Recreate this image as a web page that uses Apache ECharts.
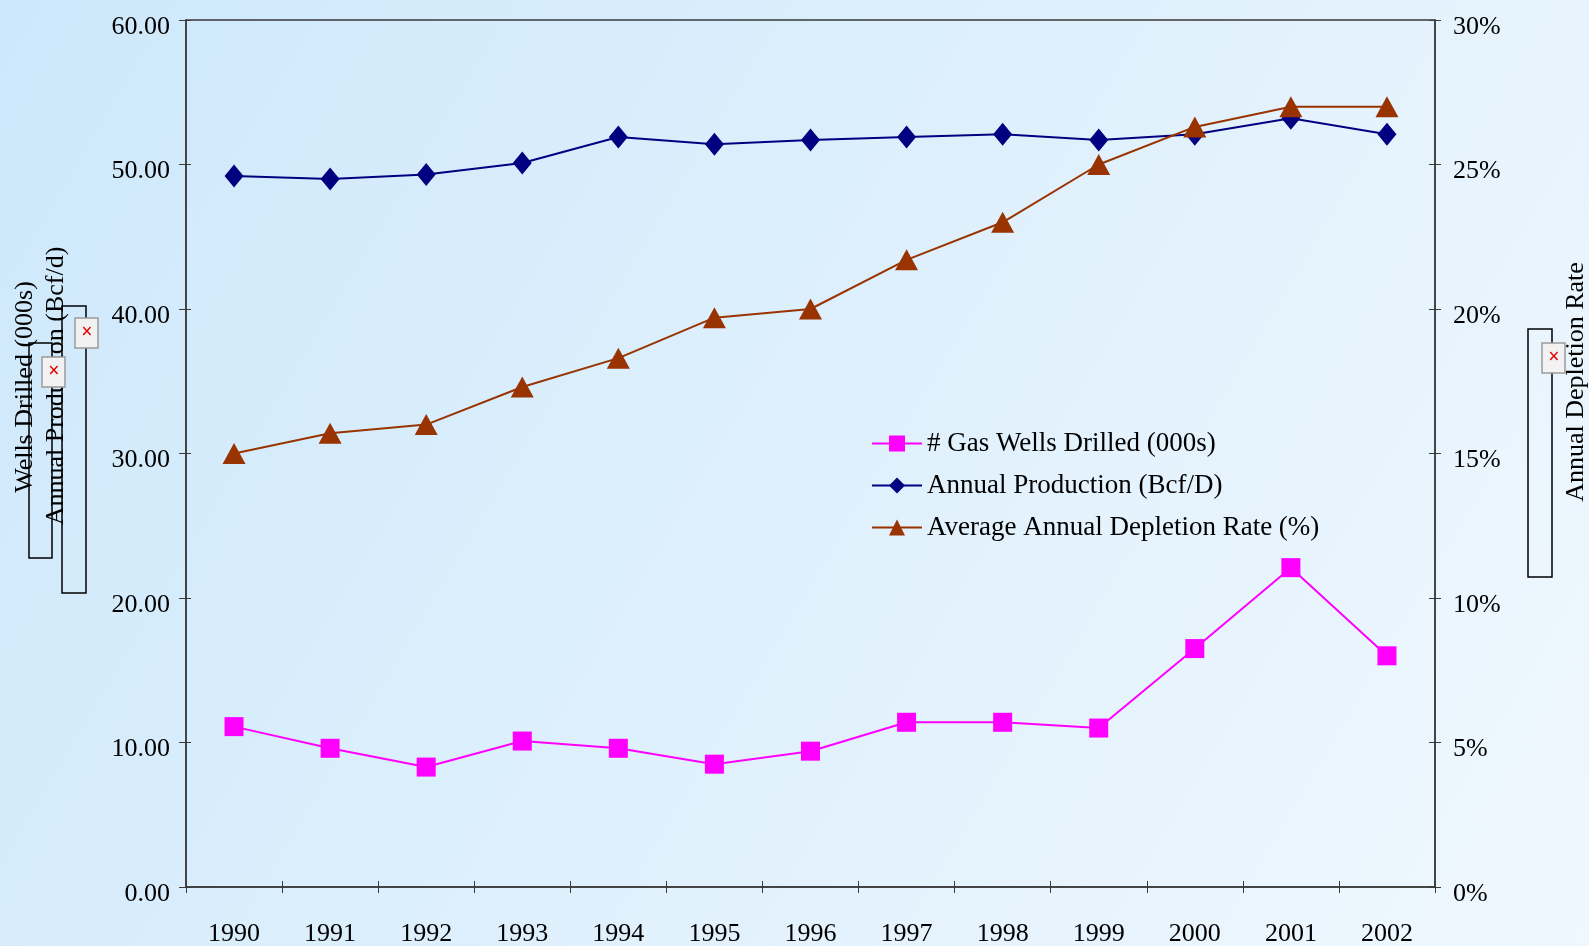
<!DOCTYPE html>
<html>
<head>
<meta charset="utf-8">
<title>Gas Wells / Production / Depletion</title>
<script src="https://cdn.jsdelivr.net/npm/echarts@6/dist/echarts.min.js"></script>
<style>
html,body{margin:0;padding:0;}
#main{width:1589px;height:946px;}
</style>
</head>
<body>
<div id="main"></div>
<script>
// 数据
var years = ['1990','1991','1992','1993','1994','1995','1996','1997','1998','1999','2000','2001','2002'];
var wellsDrilled = [11.1, 9.6, 8.3, 10.1, 9.6, 8.5, 9.4, 11.4, 11.4, 11.0, 16.5, 22.1, 16.0];
var annualProduction = [49.2, 49.0, 49.3, 50.1, 51.9, 51.4, 51.7, 51.9, 52.1, 51.7, 52.1, 53.2, 52.1];
var depletionRate = [15.0, 15.7, 16.0, 17.3, 18.3, 19.7, 20.0, 21.7, 23.0, 25.0, 26.3, 27.0, 27.0];
var leftTicks = [0, 60, 10];   // min, max, interval
var rightTicks = [0, 30, 5];

var FONT = 'Liberation Serif';

var chart_page = {
	init : function(){
		var myChart = echarts.init(document.getElementById('main'));
		myChart.setOption(chart_page.options());
		window.addEventListener('resize', function(){ myChart.resize(); });
	},

	// 坐标轴 - 公共样式
	axis_line : { show:true, onZero:false, lineStyle:{ color:'#3a3a3a', width:1.5 } },
	label_style : { color:'#000', fontFamily:FONT, fontSize:26 },

	// 破图占位框
	broken_box : function(x, y, w, h){
		return { type:'rect', shape:{ x:x, y:y, width:w, height:h },
			style:{ fill:'none', stroke:'#000', lineWidth:1.5 } };
	},
	broken_icon : function(x, y){
		return { type:'group', children:[
			{ type:'rect', shape:{ x:x, y:y, width:23, height:30 },
			  style:{ fill:'#f2f2f2', stroke:'#9a9a9a', lineWidth:1.5 } },
			{ type:'text', x:x + 12, y:y + 15,
			  style:{ text:'×', fill:'#e00000', font:'bold 20px ' + FONT, textAlign:'center', textVerticalAlign:'middle' } }
		]};
	},
	v_title : function(text, x, y){
		return { type:'text', x:x, y:y, rotation:Math.PI / 2,
			style:{ text:text, fill:'#000', font:'26px ' + FONT, textAlign:'center', textVerticalAlign:'middle' } };
	},

	options : function(){
		var lbl = chart_page.label_style;
		var option = {
			backgroundColor : new echarts.graphic.LinearGradient(0, 0, 1, 1, [
				{ offset:0, color:'#cde8fb' },
				{ offset:1, color:'#f0f8fe' }
			]),
			animation : false,
			grid : {
				left:186, right:154, top:20, bottom:59,
				outerBoundsMode:'none',
				show:true, borderColor:'#3a3a3a', borderWidth:1.5, backgroundColor:'transparent'
			},
			legend : {
				orient:'vertical',
				left:866, top:425,
				itemWidth:50, itemHeight:20, itemGap:15,
				textStyle:{ color:'#000', fontFamily:FONT, fontSize:27, lineHeight:27 },
				data:['# Gas Wells Drilled (000s)','Annual Production (Bcf/D)','Average Annual Depletion Rate (%)']
			},
			xAxis : [
				{
					type:'category', data:years, position:'bottom',
					axisLine:chart_page.axis_line,
					axisTick:{ show:true, length:6, lineStyle:{ color:'#3a3a3a' } },
					axisLabel:{ color:lbl.color, fontFamily:lbl.fontFamily, fontSize:lbl.fontSize, margin:34 },
					splitLine:{ show:false }
				},
				{
					// 内侧刻度
					type:'category', data:years, position:'bottom',
					axisLine:{ show:false, onZero:false },
					axisTick:{ show:true, inside:true, length:6, lineStyle:{ color:'#3a3a3a' } },
					axisLabel:{ show:false }, splitLine:{ show:false }
				}
			],
			yAxis : [
				{
					type:'value', position:'left',
					min:leftTicks[0], max:leftTicks[1], interval:leftTicks[2],
					axisLine:chart_page.axis_line,
					axisTick:{ show:true, length:7, lineStyle:{ color:'#3a3a3a' } },
					axisLabel:{ color:lbl.color, fontFamily:lbl.fontFamily, fontSize:lbl.fontSize, margin:16,
						verticalAlign:'top', lineHeight:14,
						formatter:function(v){ return v.toFixed(2); } },
					splitLine:{ show:false }
				},
				{
					type:'value', position:'right',
					min:rightTicks[0], max:rightTicks[1], interval:rightTicks[2],
					axisLine:chart_page.axis_line,
					axisTick:{ show:true, length:6, lineStyle:{ color:'#3a3a3a' } },
					axisLabel:{ color:lbl.color, fontFamily:lbl.fontFamily, fontSize:lbl.fontSize, margin:18,
						verticalAlign:'top', lineHeight:14,
						formatter:'{value}%' },
					splitLine:{ show:false }
				},
				{
					type:'value', position:'left',
					min:leftTicks[0], max:leftTicks[1], interval:leftTicks[2],
					axisLine:{ show:false, onZero:false },
					axisTick:{ show:true, inside:true, length:5, lineStyle:{ color:'#3a3a3a' } },
					axisLabel:{ show:false }, splitLine:{ show:false }
				},
				{
					type:'value', position:'right',
					min:rightTicks[0], max:rightTicks[1], interval:rightTicks[2],
					axisLine:{ show:false, onZero:false },
					axisTick:{ show:true, inside:true, length:6, lineStyle:{ color:'#3a3a3a' } },
					axisLabel:{ show:false }, splitLine:{ show:false }
				}
			],
			series : [
				{
					name:'# Gas Wells Drilled (000s)', type:'line', yAxisIndex:0,
					data:wellsDrilled,
					symbol:'rect', symbolSize:19,
					lineStyle:{ color:'#ff00ff', width:2 },
					itemStyle:{ color:'#ff00ff' }
				},
				{
					name:'Annual Production (Bcf/D)', type:'line', yAxisIndex:0,
					data:annualProduction,
					symbol:'diamond', symbolSize:[19,23],
					lineStyle:{ color:'#000080', width:2 },
					itemStyle:{ color:'#000080' }
				},
				{
					name:'Average Annual Depletion Rate (%)', type:'line', yAxisIndex:1,
					data:depletionRate,
					symbol:'triangle', symbolSize:[23,21],
					lineStyle:{ color:'#993300', width:2 },
					itemStyle:{ color:'#993300' }
				}
			],
			graphic : [
				chart_page.broken_box(29, 343, 23, 215),
				chart_page.broken_box(62, 306, 24, 287),
				chart_page.broken_box(1528, 329, 24, 248),
				chart_page.v_title('Wells Drilled (000s)', 25, 387),
				chart_page.v_title('Annual Production (Bcf/d)', 56, 386),
				chart_page.v_title('Annual Depletion Rate', 1576, 382),
				chart_page.broken_icon(42, 357),
				chart_page.broken_icon(75, 318),
				chart_page.broken_icon(1542, 343)
			]
		};
		return option;
	}
};

chart_page.init();
</script>
</body>
</html>
